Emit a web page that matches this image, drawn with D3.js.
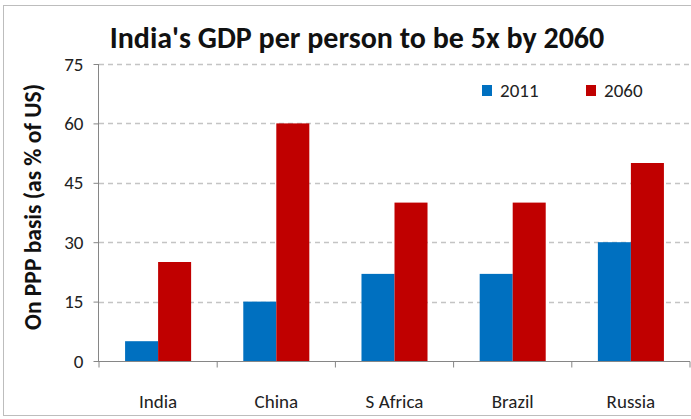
<!DOCTYPE html>
<html>
<head>
	<script src="https://cdn.jsdelivr.net/npm/d3@7/dist/d3.min.js"></script>
	<style>
		html, body { padding: 0; margin: 0; background: #fff; }
		text { font-family: Carlito, "Liberation Sans Narrow", "Open Sans", sans-serif; }
	</style>
</head>
<body>
	<script>
		var width = 691, height = 419;

		var categories = ["India", "China", "S Africa", "Brazil", "Russia"];
		var seriesNames = ["2011", "2060"];
		var values2011 = [5, 15, 22, 22, 30];
		var values2060 = [25, 60, 40, 40, 50];
		var yTicks = [0, 15, 30, 45, 60, 75];
		var colors = ["#0070C0", "#C00000"];

		var svg = d3.select('body').append('svg')
			.attr('width', width)
			.attr('height', height);

		// outer chart border
		svg.append('rect')
			.attr('x', 3.5).attr('y', 5.5)
			.attr('width', 700).attr('height', 410)
			.attr('fill', 'none')
			.attr('stroke', '#bdbdbd');

		var plot = { left: 99, right: 690, top: 64, bottom: 361 };

		var x = d3.scaleBand().domain(categories).range([plot.left, plot.right]).paddingInner(0).paddingOuter(0);
		var xs = d3.scaleBand().domain(seriesNames).range([0, x.bandwidth()]).paddingInner(0).paddingOuter(0.79);
		var y = d3.scaleLinear().domain([0, 75]).range([plot.bottom, plot.top]);

		// gridlines
		svg.append('g').selectAll('line').data(yTicks.filter(function(d) { return d > 0; }))
			.enter().append('line')
			.attr('x1', plot.left).attr('x2', plot.right)
			.attr('y1', function(d) { return Math.round(y(d)) + 0.5; })
			.attr('y2', function(d) { return Math.round(y(d)) + 0.5; })
			.attr('stroke', '#c4c4c4')
			.attr('stroke-width', 1.3)
			.attr('stroke-dasharray', '5,4');

		// bars
		var rows = categories.map(function(c, i) {
			return { cat: c, vals: [values2011[i], values2060[i]] };
		});
		var groups = svg.append('g').selectAll('g').data(rows).enter().append('g')
			.attr('transform', function(d) { return 'translate(' + x(d.cat) + ',0)'; });
		groups.selectAll('rect').data(function(d) {
			return d.vals.map(function(v, j) { return { name: seriesNames[j], v: v, j: j }; });
		}).enter().append('rect')
			.attr('x', function(d) { return xs(d.name); })
			.attr('width', xs.bandwidth())
			.attr('y', function(d) { return y(d.v); })
			.attr('height', function(d) { return y(0) - y(d.v); })
			.attr('fill', function(d) { return colors[d.j]; });

		// y axis
		var yAxis = svg.append('g')
			.attr('transform', 'translate(' + (plot.left - 0.5) + ',0)')
			.call(d3.axisLeft(y).tickValues(yTicks).tickSize(5).tickPadding(10));
		yAxis.selectAll('line').attr('stroke', '#868686');
		yAxis.select('.domain').attr('stroke', '#868686').attr('d', 'M0,' + y(75) + 'V' + y(0));
		yAxis.selectAll('text').attr('font-size', 19).attr('fill', '#222')
			.style('font-family', 'Carlito, "Liberation Sans Narrow", "Open Sans", sans-serif');

		// x axis
		var xAxis = svg.append('g')
			.attr('transform', 'translate(0,' + (plot.bottom + 0.5) + ')');
		xAxis.append('line')
			.attr('x1', plot.left - 5).attr('x2', plot.right)
			.attr('stroke', '#868686');
		var tickX = categories.map(function(c) { return x(c); }).concat([plot.right]);
		xAxis.selectAll('.tk').data(tickX).enter().append('line')
			.attr('x1', function(d) { return d; }).attr('x2', function(d) { return d; })
			.attr('y1', 0).attr('y2', 6)
			.attr('stroke', '#868686');
		xAxis.selectAll('text').data(categories).enter().append('text')
			.attr('x', function(d) { return x(d) + x.bandwidth() / 2; })
			.attr('y', 46)
			.attr('text-anchor', 'middle')
			.attr('font-size', 19)
			.attr('fill', '#222')
			.text(function(d) { return d; });

		// y axis title
		svg.append('text')
			.attr('transform', 'translate(41,207) rotate(-90)')
			.attr('text-anchor', 'middle')
			.attr('font-size', 23.5)
			.attr('font-weight', 'bold')
			.attr('fill', '#111')
			.text('On PPP basis (as % of US)');

		// title
		svg.append('text')
			.attr('x', 357).attr('y', 48)
			.attr('text-anchor', 'middle')
			.attr('font-size', 30)
			.attr('font-weight', 'bold')
			.attr('fill', '#111')
			.text("India's GDP per person to be 5x by 2060");

		// legend
		var legendX = [482, 586];
		var legend = svg.append('g').selectAll('g').data(seriesNames).enter().append('g')
			.attr('transform', function(d, i) { return 'translate(' + legendX[i] + ',85)'; });
		legend.append('rect')
			.attr('width', 10).attr('height', 11)
			.attr('fill', function(d, i) { return colors[i]; });
		legend.append('text')
			.attr('x', 18).attr('y', 12)
			.attr('font-size', 19)
			.attr('fill', '#222')
			.text(function(d) { return d; });
	</script>
</body>
</html>
